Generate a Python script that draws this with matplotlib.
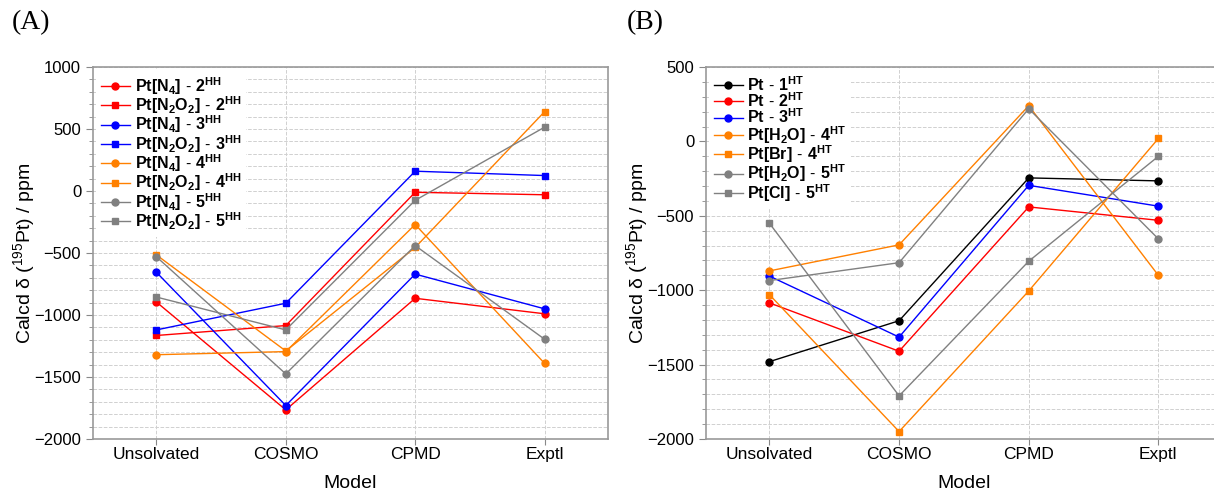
import matplotlib
matplotlib.use("Agg")
import matplotlib.pyplot as plt
from matplotlib.ticker import MultipleLocator

plt.rcParams['font.family'] = ['Liberation Sans', 'DejaVu Sans']
plt.rcParams['mathtext.fontset'] = 'custom'
plt.rcParams['mathtext.rm'] = 'Liberation Sans'
plt.rcParams['mathtext.bf'] = 'Liberation Sans:bold'

models = ["Unsolvated", "COSMO", "CPMD", "Exptl"]

# panel A: head-to-head
labels_a = [r"$\mathbf{Pt[N_4]\ \text{-}\ 2^{HH}}$", r"$\mathbf{Pt[N_2O_2]\ \text{-}\ 2^{HH}}$",
            r"$\mathbf{Pt[N_4]\ \text{-}\ 3^{HH}}$", r"$\mathbf{Pt[N_2O_2]\ \text{-}\ 3^{HH}}$",
            r"$\mathbf{Pt[N_4]\ \text{-}\ 4^{HH}}$", r"$\mathbf{Pt[N_2O_2]\ \text{-}\ 4^{HH}}$",
            r"$\mathbf{Pt[N_4]\ \text{-}\ 5^{HH}}$", r"$\mathbf{Pt[N_2O_2]\ \text{-}\ 5^{HH}}$"]
vals_a = [
    [-895, -1765, -865, -990],
    [-1165, -1085, -10, -30],
    [-655, -1730, -670, -950],
    [-1120, -905, 160, 125],
    [-1320, -1295, -270, -1390],
    [-515, -1290, -455, 640],
    [-530, -1475, -440, -1195],
    [-855, -1120, -75, 515],
]
colors_a = ["#ff0000", "#ff0000", "#0000ff", "#0000ff", "#ff8000", "#ff8000", "#808080", "#808080"]
markers_a = ["o", "s", "o", "s", "o", "s", "o", "s"]

# panel B: head-to-tail
labels_b = [r"$\mathbf{Pt\ \text{-}\ 1^{HT}}$", r"$\mathbf{Pt\ \text{-}\ 2^{HT}}$",
            r"$\mathbf{Pt\ \text{-}\ 3^{HT}}$", r"$\mathbf{Pt[H_2O]\ \text{-}\ 4^{HT}}$",
            r"$\mathbf{Pt[Br]\ \text{-}\ 4^{HT}}$", r"$\mathbf{Pt[H_2O]\ \text{-}\ 5^{HT}}$",
            r"$\mathbf{Pt[Cl]\ \text{-}\ 5^{HT}}$"]
vals_b = [
    [-1480, -1205, -245, -265],
    [-1085, -1410, -440, -530],
    [-905, -1315, -295, -435],
    [-870, -695, 240, -900],
    [-1030, -1950, -1005, 20],
    [-935, -815, 220, -655],
    [-550, -1710, -805, -100],
]
colors_b = ["#000000", "#ff0000", "#0000ff", "#ff8000", "#ff8000", "#808080", "#808080"]
markers_b = ["o", "o", "o", "o", "s", "o", "s"]

fig = plt.figure(figsize=(12.14, 4.92), dpi=100)
ax_a = fig.add_axes([0.0766, 0.1077, 0.4242, 0.756])
ax_b = fig.add_axes([0.5815, 0.1077, 0.425, 0.756])

x = list(range(len(models)))


def setup(ax, ymin, ymax):
    ax.set_xlim(-0.49, 3.49)
    ax.set_ylim(ymin, ymax)
    ax.set_xticks(x)
    ax.set_xticklabels(models, fontsize=12.5)
    ax.yaxis.set_major_locator(MultipleLocator(500))
    ax.yaxis.set_minor_locator(MultipleLocator(100))
    ax.tick_params(axis='y', which='major', labelsize=12, length=5, color='#888888')
    ax.tick_params(axis='y', which='minor', length=3, color='#888888')
    ax.tick_params(axis='x', length=4, color='#888888', pad=2)
    ax.grid(True, which='both', axis='y', linestyle='--', color='#d0d0d0', linewidth=0.7)
    ax.grid(True, which='major', axis='x', linestyle='--', color='#d0d0d0', linewidth=0.7)
    ax.set_axisbelow(True)
    for s in ax.spines.values():
        s.set_color('#999999')
        s.set_linewidth(1.2)
    ax.set_xlabel("Model", fontsize=14, labelpad=9)
    ax.set_ylabel(r"Calcd δ ($^{195}$Pt) / ppm", fontsize=14, labelpad=-3)


for lab, v, c, m in zip(labels_a, vals_a, colors_a, markers_a):
    ax_a.plot(x, v, color=c, marker=m, markersize=5, linewidth=1, label=lab)
for lab, v, c, m in zip(labels_b, vals_b, colors_b, markers_b):
    ax_b.plot(x, v, color=c, marker=m, markersize=5, linewidth=1, label=lab)

setup(ax_a, -2000, 1000)
setup(ax_b, -2000, 500)

for ax in (ax_a, ax_b):
    ax.legend(loc='upper left', fontsize=11.5, frameon=True, facecolor='white', edgecolor='none',
              framealpha=1, handlelength=1.8, handletextpad=0.3, labelspacing=-0.15,
              borderaxespad=0.2, borderpad=0.3)

fig.text(0.01, 1 - 10 / 492, "(A)", fontsize=20, family='Liberation Serif', va='top')
fig.text(0.516, 1 - 10 / 492, "(B)", fontsize=20, family='Liberation Serif', va='top')

fig.savefig("out.png", dpi=100)
